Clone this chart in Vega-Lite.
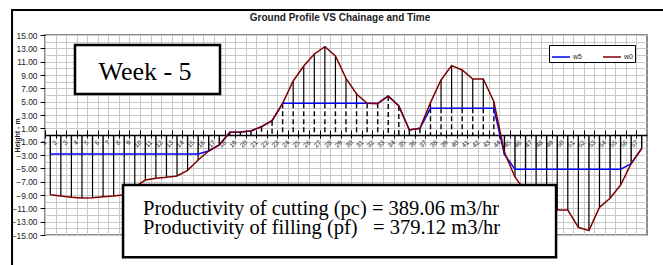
{
  "$schema": "https://vega.github.io/schema/vega-lite/v6.json",
  "width": 602,
  "height": 200,
  "autosize": {"type": "none"},
  "padding": {"left": 45, "top": 35, "right": 16, "bottom": 30},
  "background": "white",
  "title": {"text": "Ground Profile VS Chainage and Time", "font": "Liberation Sans", "fontSize": 10, "fontWeight": "bold", "color": "#222222", "frame": "group", "offset": -14, "dx": -6},
  "config": {
    "view": {"stroke": "#8c8c8c", "strokeWidth": 2},
    "font": "Liberation Sans",
    "axis": {"labelOverlap": false}
  },
  "data": {"values": [
    {"ch": 1, "w0": -8.95, "w5": -2.85},
    {"ch": 2, "w0": -9.15, "w5": -2.85},
    {"ch": 3, "w0": -9.35, "w5": -2.85},
    {"ch": 4, "w0": -9.45, "w5": -2.85},
    {"ch": 5, "w0": -9.4, "w5": -2.85},
    {"ch": 6, "w0": -9.25, "w5": -2.85},
    {"ch": 7, "w0": -9.15, "w5": -2.85},
    {"ch": 8, "w0": -8.95, "w5": -2.85},
    {"ch": 9, "w0": -7.8, "w5": -2.85},
    {"ch": 10, "w0": -6.75, "w5": -2.85},
    {"ch": 11, "w0": -6.5, "w5": -2.85},
    {"ch": 12, "w0": -6.35, "w5": -2.85},
    {"ch": 13, "w0": -6.15, "w5": -2.85},
    {"ch": 14, "w0": -5.3, "w5": -2.85},
    {"ch": 15, "w0": -3.75, "w5": -2.85},
    {"ch": 16, "w0": -2.4, "w5": -2.4},
    {"ch": 17, "w0": -1.5, "w5": -1.5},
    {"ch": 18, "w0": 0.4, "w5": 0.4},
    {"ch": 19, "w0": 0.45, "w5": 0.45},
    {"ch": 20, "w0": 0.6, "w5": 0.6},
    {"ch": 21, "w0": 1.25, "w5": 1.25},
    {"ch": 22, "w0": 2.15, "w5": 2.15},
    {"ch": 23, "w0": 4.75, "w5": 4.75},
    {"ch": 24, "w0": 8.1, "w5": 4.75},
    {"ch": 25, "w0": 10.35, "w5": 4.75},
    {"ch": 26, "w0": 12.15, "w5": 4.75},
    {"ch": 27, "w0": 13.25, "w5": 4.75},
    {"ch": 28, "w0": 11.85, "w5": 4.75},
    {"ch": 29, "w0": 8.5, "w5": 4.75},
    {"ch": 30, "w0": 6.15, "w5": 4.75},
    {"ch": 31, "w0": 4.75, "w5": 4.75},
    {"ch": 32, "w0": 4.7, "w5": 4.75},
    {"ch": 33, "w0": 5.85, "w5": 5.85},
    {"ch": 34, "w0": 4.35, "w5": 4.35},
    {"ch": 35, "w0": 0.75, "w5": 0.75},
    {"ch": 36, "w0": 1.0, "w5": 1.0},
    {"ch": 37, "w0": 4.85, "w5": 4.0},
    {"ch": 38, "w0": 8.25, "w5": 4.0},
    {"ch": 39, "w0": 10.4, "w5": 4.0},
    {"ch": 40, "w0": 9.75, "w5": 4.0},
    {"ch": 41, "w0": 8.4, "w5": 4.0},
    {"ch": 42, "w0": 8.4, "w5": 4.0},
    {"ch": 43, "w0": 5.0, "w5": 4.0},
    {"ch": 44, "w0": -2.6, "w5": -2.9},
    {"ch": 45, "w0": -6.3, "w5": -5.15},
    {"ch": 46, "w0": -8.5, "w5": -5.15},
    {"ch": 47, "w0": -10.3, "w5": -5.15},
    {"ch": 48, "w0": -11.1, "w5": -5.15},
    {"ch": 49, "w0": -11.25, "w5": -5.15},
    {"ch": 50, "w0": -11.25, "w5": -5.15},
    {"ch": 51, "w0": -13.85, "w5": -5.15},
    {"ch": 52, "w0": -14.35, "w5": -5.15},
    {"ch": 53, "w0": -10.85, "w5": -5.15},
    {"ch": 54, "w0": -9.5, "w5": -5.15},
    {"ch": 55, "w0": -7.5, "w5": -5.15},
    {"ch": 56, "w0": -4.3, "w5": -4.3},
    {"ch": 57, "w0": -2.0, "w5": -2.0}
  ]},
  "layer": [
    {
      "mark": {"type": "rule", "color": "black", "strokeWidth": 1.2},
      "encoding": {
        "x": {"field": "ch", "type": "quantitative", "scale": {"domain": [0.5, 57.5], "nice": false, "zero": false},
          "axis": {"orient": "top", "offset": -100, "labels": false, "grid": false, "domain": true, "domainColor": "black", "domainWidth": 1.5, "ticks": true, "tickSize": 5, "tickColor": "black", "tickWidth": 1, "title": null, "zindex": 0,
            "values": [0.5,1.5,2.5,3.5,4.5,5.5,6.5,7.5,8.5,9.5,10.5,11.5,12.5,13.5,14.5,15.5,16.5,17.5,18.5,19.5,20.5,21.5,22.5,23.5,24.5,25.5,26.5,27.5,28.5,29.5,30.5,31.5,32.5,33.5,34.5,35.5,36.5,37.5,38.5,39.5,40.5,41.5,42.5,43.5,44.5,45.5,46.5,47.5,48.5,49.5,50.5,51.5,52.5,53.5,54.5,55.5,56.5]}},
        "y": {"field": "w5", "type": "quantitative", "title": "Height - m", "scale": {"domain": [-15, 15], "nice": false, "zero": false},
          "axis": {"orient": "left", "values": [-15,-13,-11,-9,-7,-5,-3,-1,1,3,5,7,9,11,13,15], "format": ".2f",
            "grid": false, "domain": false, "tickSize": 5, "tickWidth": 1, "tickColor": "black",
            "labelFontSize": 8.4, "labelColor": "#222222", "labelPadding": 3, "labelOverlap": false, "labelFlush": false, "labelBound": false,
            "title": "Height - m", "titleFontSize": 7, "titleFontWeight": "bold", "titleColor": "#222222", "titleX": -28, "titleY": 100, "titleAngle": -90, "titleBaseline": "middle", "titleAlign": "center", "zindex": 0}},
        "y2": {"field": "w0"}
      }
    },
    {
      "mark": {"type": "rule", "color": "black", "strokeWidth": 1.4},
      "encoding": {
        "x": {"field": "ch", "type": "quantitative", "scale": {"domain": [0.5, 57.5], "nice": false, "zero": false}, "axis": null},
        "y": {"field": "w5", "type": "quantitative", "scale": {"domain": [-15, 15], "nice": false, "zero": false}, "axis": null},
        "y2": {"datum": 0},
        "strokeDash": {"condition": {"test": "datum.w5 > 0", "value": [5, 3]}, "value": [1, 0]}
      }
    },
    {
      "mark": {"type": "line", "strokeWidth": 1.5},
      "encoding": {
        "x": {"field": "ch", "type": "quantitative", "scale": {"domain": [0.5, 57.5], "nice": false, "zero": false},
          "axis": {"orient": "bottom", "offset": -100, "title": null, "grid": true, "gridColor": "#c8c8c8", "gridWidth": 1, "domain": false, "ticks": true, "tickSize": 3, "tickColor": "black", "tickWidth": 1,
            "labels": true, "labelAngle": -45, "labelAlign": "right", "labelBaseline": "middle", "labelPadding": 3, "labelFontSize": 6.5, "labelColor": "#222222", "labelFlush": false, "labelOverlap": false, "labelBound": false, "zindex": 0,
            "labelExpr": "format(datum.value + 0.5, 'd')",
            "values": [0.5,1.5,2.5,3.5,4.5,5.5,6.5,7.5,8.5,9.5,10.5,11.5,12.5,13.5,14.5,15.5,16.5,17.5,18.5,19.5,20.5,21.5,22.5,23.5,24.5,25.5,26.5,27.5,28.5,29.5,30.5,31.5,32.5,33.5,34.5,35.5,36.5,37.5,38.5,39.5,40.5,41.5,42.5,43.5,44.5,45.5,46.5,47.5,48.5,49.5,50.5,51.5,52.5,53.5,54.5,55.5,56.5]}},
        "y": {"field": "w5", "type": "quantitative", "scale": {"domain": [-15, 15], "nice": false, "zero": false},
          "axis": {"orient": "right", "values": [-15,-14,-13,-12,-11,-10,-9,-8,-7,-6,-5,-4,-3,-2,-1,0,1,2,3,4,5,6,7,8,9,10,11,12,13,14,15],
            "grid": true, "gridColor": "#c8c8c8", "gridWidth": 1, "domain": false, "ticks": false, "labels": false, "title": null, "zindex": 0}},
        "color": {"datum": "w5", "type": "nominal", "scale": {"domain": ["w5", "w0"], "range": ["#0000ff", "#800000"]},
          "legend": {"title": null, "orient": "none", "legendX": 504, "legendY": 10, "direction": "horizontal", "strokeColor": "black", "fillColor": "white", "padding": 2, "symbolType": "stroke", "symbolSize": 324, "symbolStrokeWidth": 1.5, "labelFontSize": 7, "labelColor": "#222222", "columnPadding": 18, "labelOffset": 2}}
      }
    },
    {
      "mark": {"type": "line", "strokeWidth": 1.5},
      "encoding": {
        "x": {"field": "ch", "type": "quantitative", "scale": {"domain": [0.5, 57.5], "nice": false, "zero": false}, "axis": null},
        "y": {"field": "w0", "type": "quantitative", "scale": {"domain": [-15, 15], "nice": false, "zero": false}, "axis": null},
        "color": {"datum": "w0", "type": "nominal"}
      }
    },
    {
      "data": {"values": [
        {"xa": 3.34, "xb": 17.07, "ya": 13.5, "yb": 6.15},
        {"xa": 7.89, "xb": 48.89, "ya": -7.5, "yb": -18.35}
      ]},
      "mark": {"type": "rect", "fill": "white", "stroke": "black", "strokeWidth": 2.5},
      "encoding": {
        "x": {"field": "xa", "type": "quantitative", "scale": {"domain": [0.5, 57.5], "nice": false, "zero": false}, "axis": null},
        "x2": {"field": "xb"},
        "y": {"field": "ya", "type": "quantitative", "scale": {"domain": [-15, 15], "nice": false, "zero": false}, "axis": null},
        "y2": {"field": "yb"}
      }
    },
    {
      "data": {"values": [
        {"xa": -2.62, "xb": 62, "ya": 18.75, "yb": -23}
      ]},
      "mark": {"type": "rect", "fill": null, "filled": false, "stroke": "black", "strokeWidth": 2},
      "encoding": {
        "x": {"field": "xa", "type": "quantitative", "scale": {"domain": [0.5, 57.5], "nice": false, "zero": false}, "axis": null},
        "x2": {"field": "xb"},
        "y": {"field": "ya", "type": "quantitative", "scale": {"domain": [-15, 15], "nice": false, "zero": false}, "axis": null},
        "y2": {"field": "yb"}
      }
    },
    {
      "data": {"values": [{"label": "Week - 5", "tx": 9.97, "ty": 8.25}]},
      "mark": {"type": "text", "font": "Liberation Serif", "fontSize": 26, "align": "center", "baseline": "alphabetic", "color": "black"},
      "encoding": {
        "x": {"field": "tx", "type": "quantitative", "scale": {"domain": [0.5, 57.5], "nice": false, "zero": false}, "axis": null},
        "y": {"field": "ty", "type": "quantitative", "scale": {"domain": [-15, 15], "nice": false, "zero": false}, "axis": null},
        "text": {"field": "label"}
      }
    },
    {
      "data": {"values": [
        {"label": "Productivity of cutting (pc) = 389.06 m3/hr", "tx": 9.78, "ty": -12.0},
        {"label": "Productivity of filling (pf)\u00a0\u00a0\u00a0= 379.12 m3/hr", "tx": 9.78, "ty": -14.85}
      ]},
      "mark": {"type": "text", "font": "Liberation Serif", "fontSize": 20.5, "align": "left", "baseline": "alphabetic", "color": "black"},
      "encoding": {
        "x": {"field": "tx", "type": "quantitative", "scale": {"domain": [0.5, 57.5], "nice": false, "zero": false}, "axis": null},
        "y": {"field": "ty", "type": "quantitative", "scale": {"domain": [-15, 15], "nice": false, "zero": false}, "axis": null},
        "text": {"field": "label"}
      }
    }
  ],
  "resolve": {"axis": {"x": "independent", "y": "independent"}}
}
